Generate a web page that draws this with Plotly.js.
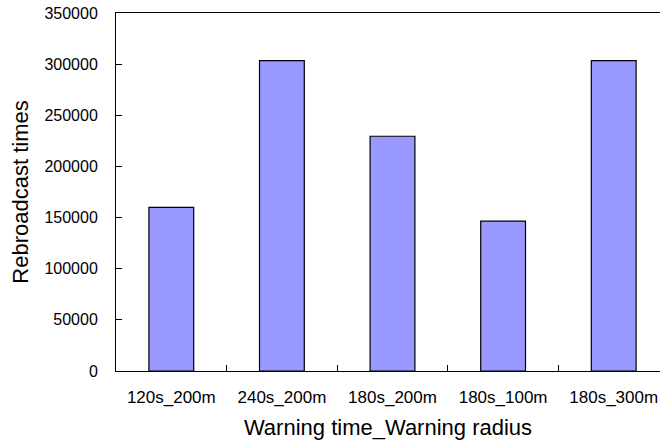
<!DOCTYPE html>
<html>
<head>
<meta charset="utf-8">
<script src="https://cdn.plot.ly/plotly-3.0.1.min.js"></script>
<style>html,body{margin:0;padding:0;background:#fff;}</style>
</head>
<body>
<div id="chart" style="width:660px;height:447px;"></div>
<script>
const categories = ["120s_200m", "240s_200m", "180s_200m", "180s_100m", "180s_300m"];
const rebroadcastTimes = [160000, 303500, 229500, 146500, 303500];
const yTicks = [0, 50000, 100000, 150000, 200000, 250000, 300000, 350000];

const font = "Liberation Sans, Arial, sans-serif";

Plotly.newPlot("chart", [{
  type: "bar",
  x: categories,
  y: rebroadcastTimes,
  marker: {color: "#9999FF", line: {color: "#000000", width: 1.2}},
  hoverinfo: "x+y"
}], {
  width: 660,
  height: 447,
  margin: {l: 116, r: 0, t: 13, b: 76, pad: 0},
  paper_bgcolor: "#ffffff",
  plot_bgcolor: "#ffffff",
  bargap: 0.595,
  showlegend: false,
  font: {family: font, color: "#000000"},
  xaxis: {
    type: "category",
    range: [-0.5, 4.4186],
    showline: true, linecolor: "#000000", linewidth: 1, mirror: true,
    ticks: "inside", ticklen: 6, tickcolor: "#000000", tickwidth: 1,
    tickson: "boundaries",
    showgrid: false, zeroline: false,
    tickfont: {family: font, size: 17, color: "#000000"},
    ticklabelstandoff: 11,
    automargin: false,
    title: {text: "Warning time_Warning radius", font: {family: font, size: 22, color: "#000000"}, standoff: 13}
  },
  yaxis: {
    range: [0, 350000],
    tickvals: yTicks,
    ticktext: yTicks.map(String),
    showline: true, linecolor: "#000000", linewidth: 1, mirror: false,
    ticks: "inside", ticklen: 6, tickcolor: "#000000", tickwidth: 1,
    showgrid: false, zeroline: false,
    tickfont: {family: font, size: 16, color: "#000000"},
    ticklabelstandoff: 14,
    automargin: false,
    title: {text: "Rebroadcast times", font: {family: font, size: 22, color: "#000000"}, standoff: 9}
  }
}, {displayModeBar: false, staticPlot: true});
</script>
</body>
</html>
